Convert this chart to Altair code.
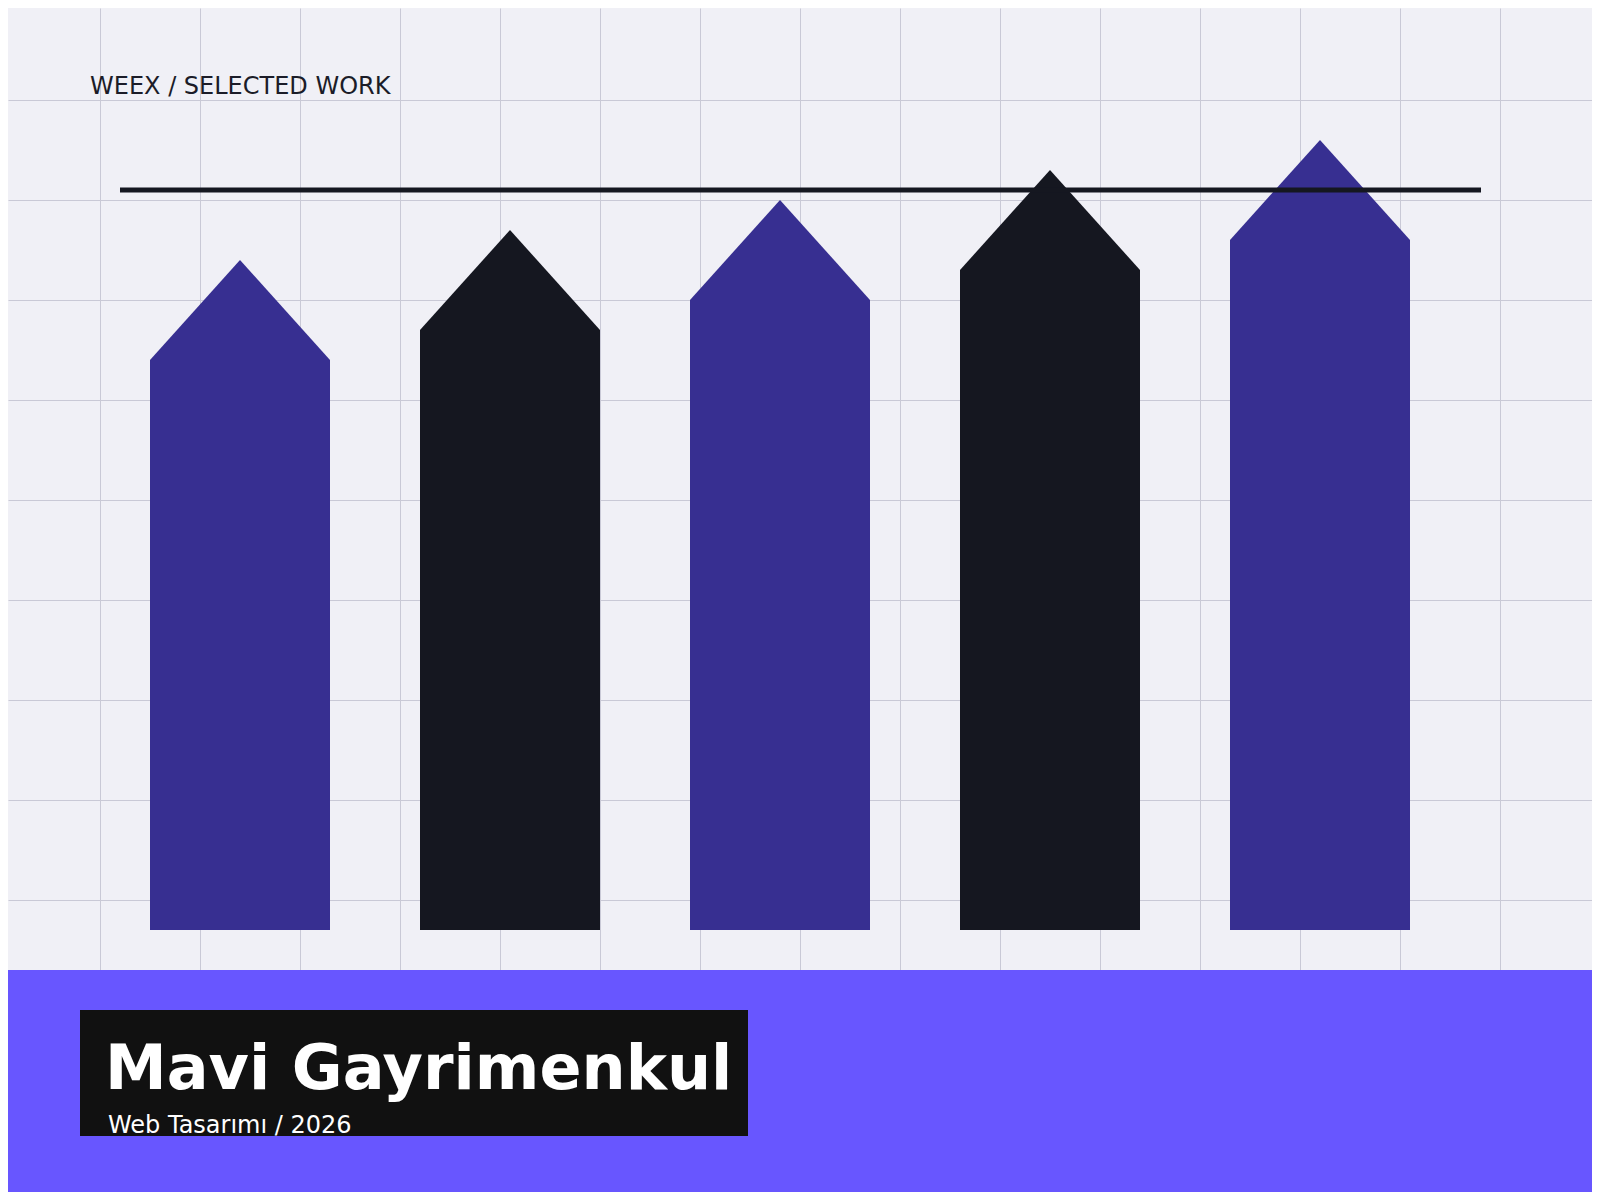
import altair as alt
import pandas as pd

# ---- data ----
projects = ["01", "02", "03", "04", "05"]
values = [5.7, 6.0, 6.3, 6.6, 6.9]
groups = ["a", "b", "a", "b", "a"]
target = 7.4

header = ["WEEX / SELECTED WORK"]
title = ["Mavi Gayrimenkul"]
subtitle = ["Web Tasarımı / 2026"]

PURPLE = "#372f91"
DARK = "#151720"
BG = "#f0f0f6"
GRID = "#c9c9d6"
BAND = "#6856ff"

W, H = 1584, 1184
x_dom = [-232 / 270, (W - 232) / 270]
y_dom = [-2.62, -2.62 + H / 100]
half_w = 1.0 / 3.0
roof_px = 180  # roof width in px (matches body width)

df = pd.DataFrame({
    "project": projects,
    "v": values,
    "grp": groups,
    "idx": list(range(len(projects))),
})
df["x0"] = df["idx"] - half_w
df["x1"] = df["idx"] + half_w
df["base"] = 0.0

x_grid = [x_dom[0] + (92 + 100 * k) / 270 for k in range(16)]
y_grid = [y_dom[1] - (100 * k - 8) / 100 for k in range(1, 12)]

xs = alt.Scale(domain=x_dom, nice=False, zero=False)
ys = alt.Scale(domain=y_dom, nice=False, zero=False)
color = alt.Color("grp:N", scale=alt.Scale(domain=["a", "b"], range=[PURPLE, DARK]), legend=None)

body = alt.Chart(df).mark_rect(opacity=1).encode(
    x=alt.X("x0:Q", scale=xs,
            axis=alt.Axis(values=x_grid, grid=True, labels=False, ticks=False,
                          domain=False, title=None, gridColor=GRID, gridWidth=1)),
    x2="x1:Q",
    y=alt.Y("v:Q", scale=ys,
            axis=alt.Axis(values=y_grid, grid=True, labels=False, ticks=False,
                          domain=False, title=None, gridColor=GRID, gridWidth=1)),
    y2="base:Q",
    color=color,
)

roofs = alt.Chart(df).mark_point(
    filled=True, opacity=1, shape="M-1,0L0,-1.1111L1,0Z", size=roof_px * roof_px, strokeWidth=0
).encode(
    x=alt.X("idx:Q", scale=xs),
    y=alt.Y("v:Q", scale=ys),
    color=color,
)

rule = alt.Chart(pd.DataFrame({"t": [target]})).mark_rule(color=DARK, strokeWidth=5).encode(
    y=alt.Y("t:Q", scale=ys), x=alt.value(112), x2=alt.value(1473)
)

one = pd.DataFrame({"k": [0]})
band = alt.Chart(one).mark_rect(color=BAND).encode(
    x=alt.value(0), x2=alt.value(W), y=alt.value(962), y2=alt.value(H)
)
box = alt.Chart(one).mark_rect(color="#111111").encode(
    x=alt.value(72), x2=alt.value(740), y=alt.value(1002), y2=alt.value(1128)
)

head_t = alt.Chart(pd.DataFrame({"s": header})).mark_text(
    align="left", baseline="alphabetic", font="DejaVu Sans", fontSize=24, color="#1b1c28"
).encode(x=alt.value(82), y=alt.value(86), text="s:N")

title_t = alt.Chart(pd.DataFrame({"s": title})).mark_text(
    align="left", baseline="alphabetic", font="DejaVu Sans", fontSize=62, fontWeight="bold", color="#ffffff"
).encode(x=alt.value(97), y=alt.value(1081), text="s:N")

sub_t = alt.Chart(pd.DataFrame({"s": subtitle})).mark_text(
    align="left", baseline="alphabetic", font="DejaVu Sans", fontSize=24, color="#ffffff"
).encode(x=alt.value(100), y=alt.value(1125), text="s:N")

chart = alt.layer(body, roofs, rule, band, box, head_t, title_t, sub_t).properties(
    width=W, height=H, padding=0, background=BG,
    autosize=alt.AutoSizeParams(type="none"),
).configure_view(stroke=None, fill=BG)

chart.save("out.html", embed_options={"renderer": "svg", "actions": False})
